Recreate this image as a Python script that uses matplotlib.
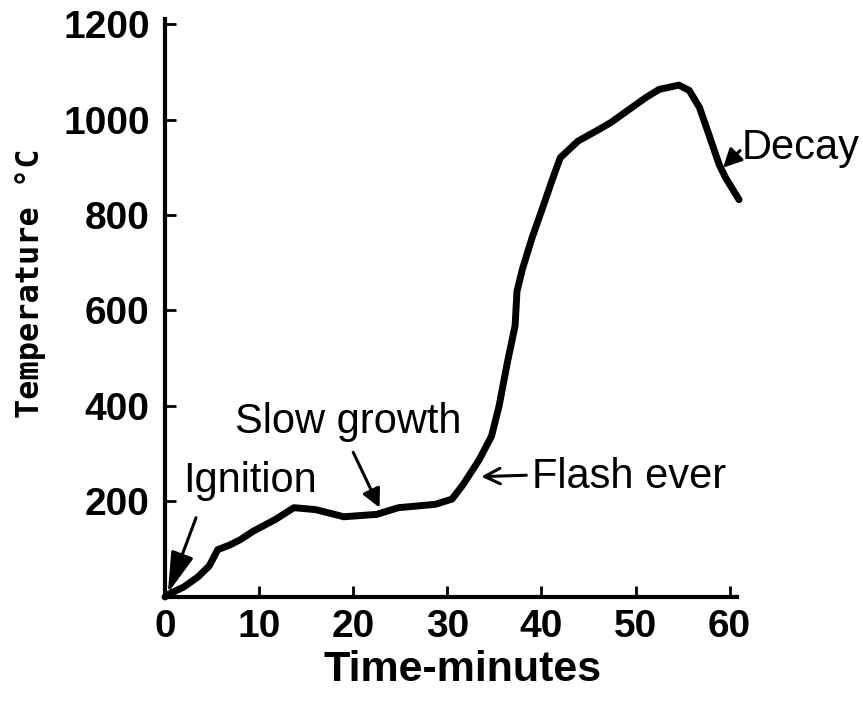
import matplotlib
matplotlib.use("Agg")
import matplotlib.pyplot as plt

# fire development curve
time_min = [0, 0.3, 2, 3.5, 4.7, 5.6, 6.9, 8, 9.4, 11.7, 13.7, 16, 19, 22.5, 24.8,
            28.7, 30.5, 31.7, 33.4, 34.7, 35.5, 36.4, 37.2, 37.4, 38, 39, 40, 41.1,
            42, 43.9, 46.1, 47.4, 49.6, 51.1, 52.5, 54.6, 55.7, 56.8, 57.8, 58.9,
            59.6, 61]
temp_c = [0, 5, 21, 42, 65, 99, 109, 120, 138, 162, 187, 183, 168, 173, 187,
          194, 205, 236, 288, 337, 400, 493, 568, 640, 688, 752, 808, 871,
          920, 955, 979, 994, 1025, 1046, 1063, 1072, 1061, 1025, 968, 905,
          877, 832]

x_ticks = [0, 10, 20, 30, 40, 50, 60]
y_ticks = [200, 400, 600, 800, 1000, 1200]

# stage labels: text, text anchor (left, baseline), arrow tail, arrow head, style
stage_text = ["Ignition", "Slow growth", "Flash ever", "Decay"]
stage_text_xy = [(1.9, 219), (7.4, 343), (39.0, 228), (61.3, 917)]
stage_arrow_from = [(3.3, 166), (20.0, 303), (38.4, 255), (61.1, 935)]
stage_arrow_to = [(0.3, 8), (22.8, 187), (33.6, 252), (59.3, 899)]
stage_arrow_style = ["-|>,head_length=0.6,head_width=0.17", "-|>", "->", "-|>"]
stage_head_size = [42, 28, 28, 28]

fig = plt.figure(figsize=(8.63, 7.02), dpi=100)
ax = fig.add_axes([0.1912, 0.1496, 0.663, 0.823])

ax.plot(time_min, temp_c, color="black", lw=5, solid_capstyle="round",
        solid_joinstyle="round", clip_on=False)

ax.set_xlim(0, 60.8)
ax.set_ylim(0, 1210)
ax.set_xticks(x_ticks)
ax.set_yticks(y_ticks)

for side in ["top", "right"]:
    ax.spines[side].set_visible(False)
for side in ["left", "bottom"]:
    ax.spines[side].set_linewidth(3)

ax.tick_params(direction="in", length=8, width=2, labelsize=28)
ax.tick_params(axis="x", pad=9)
ax.tick_params(axis="y", pad=11)
for lab in ax.get_xticklabels() + ax.get_yticklabels():
    lab.set_fontfamily("Liberation Sans")
    lab.set_fontweight("bold")

ax.text(0.52, -0.127, "Time-minutes", transform=ax.transAxes, ha="center",
        va="center", fontsize=31, fontweight="bold", family="Liberation Sans")
ax.text(-0.235, 0.543, "Temperature °C", transform=ax.transAxes, ha="center",
        va="center", rotation=90, fontsize=23, fontweight="bold",
        family="DejaVu Sans Mono")

for txt, txy, a_from, a_to, style, hs in zip(stage_text, stage_text_xy,
                                             stage_arrow_from, stage_arrow_to,
                                             stage_arrow_style, stage_head_size):
    ax.text(txy[0], txy[1], txt, ha="left", va="baseline", fontsize=30,
            family="Liberation Sans", clip_on=False)
    ax.annotate("", xy=a_to, xytext=a_from, annotation_clip=False,
                arrowprops=dict(arrowstyle=style, color="black", lw=2.2,
                                mutation_scale=hs, shrinkA=0, shrinkB=0))

fig.savefig("out.png", dpi=100)
